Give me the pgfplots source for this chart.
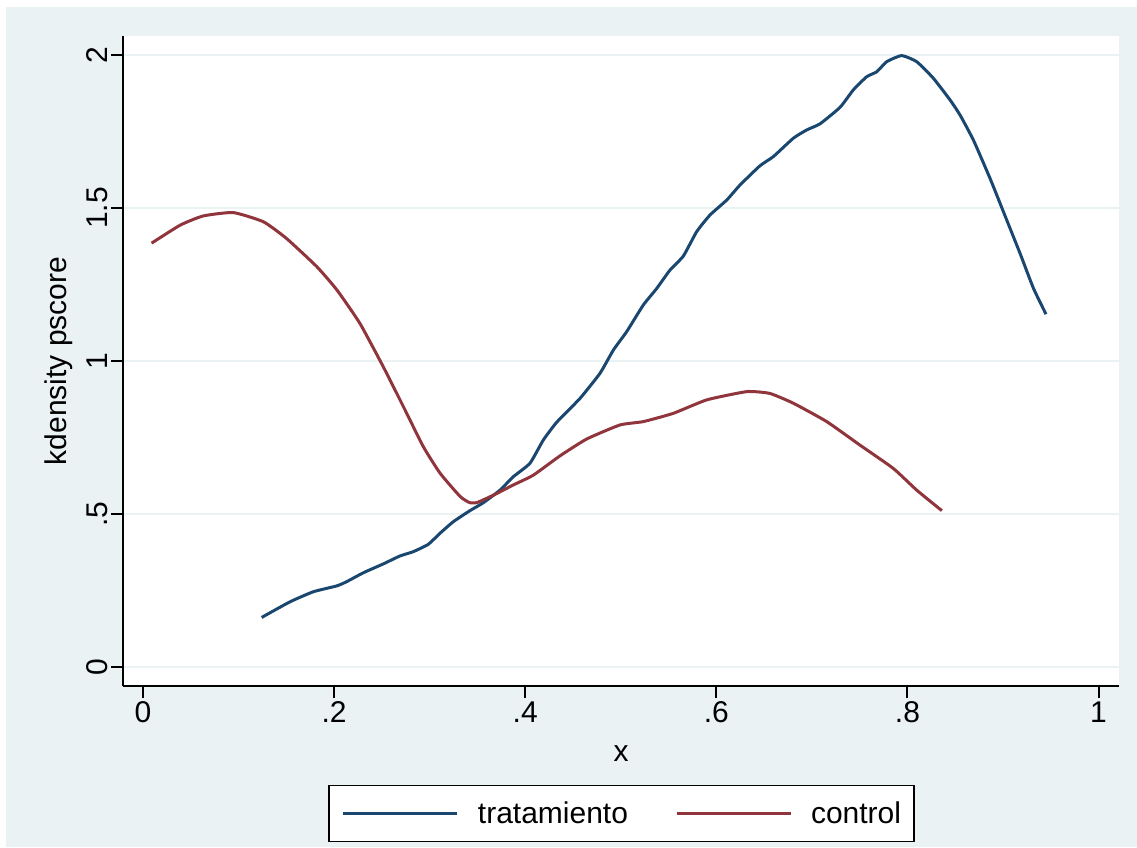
\documentclass[border=0pt]{standalone}
\usepackage{fontspec}
\setmainfont{Liberation Sans}
\usepackage{pgfplots}
\pgfplotsset{compat=1.18}
\definecolor{stnavy}{RGB}{26,71,111}
\definecolor{stmaroon}{RGB}{144,53,59}
\definecolor{stbg}{RGB}{234,242,243}
\begin{document}
\begin{tikzpicture}[x=1pt,y=1pt]
\useasboundingbox (0,0) rectangle (1137,847);
\fill[white] (0,0) rectangle (1137,847);
\fill[stbg] (6,0) rectangle (1137,840);
\begin{axis}[
  at={(123pt,161pt)}, anchor=south west,
  scale only axis, width=996pt, height=650pt,
  xmin=-0.0209, xmax=1.0214, ymin=-0.062, ymax=2.062,
  axis lines*=left,
  axis line style={line width=2pt, black},
  axis background/.style={fill=white},
  tick align=outside, major tick length=12pt,
  tick style={line width=2pt, black},
  xtick={0,0.2,0.4,0.6,0.8,1}, xticklabels={0,.2,.4,.6,.8,1},
  ytick={0,0.5,1,1.5,2}, yticklabels={0,.5,1,1.5,2},
  yticklabel style={rotate=90, anchor=south},
  ymajorgrids, grid style={stbg, line width=2.5pt},
  /pgf/number format/assume math mode=true,
  font=\fontsize{30}{36}\selectfont,
  xlabel={x}, ylabel={kdensity pscore},
  xlabel style={yshift=-16pt},
  ylabel style={yshift=7pt},
  legend columns=2,
  legend style={at={(0.5005,-0.196)}, anchor=center, draw=black, line width=1.5pt,
    inner xsep=13pt, inner ysep=16.5pt,
    nodes={inner sep=0pt, anchor=west},
    /tikz/every odd column/.style={column sep=19pt},
    /tikz/every even column/.style={column sep=47pt}},
  legend image code/.code={\draw[#1, line width=3pt] (0pt,0pt) -- (114pt,0pt);},
  legend cell align=left,
]
\addplot[stnavy, line width=3pt, line join=round, smooth, tension=0.3] coordinates {
(0.1242,0.162) (0.1538,0.213) (0.1783,0.246) (0.2027,0.265) (0.2132,0.279)
(0.2306,0.308) (0.2515,0.337) (0.269,0.363) (0.2829,0.377) (0.2986,0.401)
(0.3108,0.437) (0.3248,0.475) (0.3422,0.511) (0.3562,0.537) (0.3736,0.578)
(0.3876,0.622) (0.405,0.666) (0.419,0.742) (0.433,0.800) (0.4574,0.878)
(0.4783,0.960) (0.4923,1.036) (0.5062,1.096) (0.5236,1.183) (0.5376,1.237)
(0.5515,1.297) (0.5655,1.343) (0.5795,1.423) (0.5934,1.477) (0.6109,1.526)
(0.6248,1.575) (0.6457,1.638) (0.6597,1.668) (0.6806,1.728) (0.6946,1.755)
(0.7085,1.775) (0.7295,1.829) (0.7434,1.886) (0.7574,1.929) (0.7679,1.945)
(0.7783,1.978) (0.794,1.998) (0.8097,1.978) (0.8271,1.924) (0.8446,1.853)
(0.855,1.804) (0.869,1.722) (0.8864,1.597) (0.9004,1.488) (0.9178,1.352)
(0.9318,1.238) (0.945,1.153)
};
\addlegendentry{tratamiento}
\addplot[stmaroon, line width=3pt, line join=round, smooth, tension=0.3] coordinates {
(0.009,1.385) (0.039,1.444) (0.063,1.474) (0.0945,1.485) (0.126,1.455)
(0.150,1.401) (0.182,1.308) (0.203,1.232) (0.227,1.123) (0.2515,0.981)
(0.2725,0.851) (0.2934,0.720) (0.311,0.633) (0.332,0.557) (0.342,0.537)
(0.350,0.538) (0.367,0.562) (0.3876,0.595) (0.4085,0.627) (0.4364,0.690)
(0.4643,0.745) (0.4992,0.791) (0.5236,0.802) (0.555,0.829) (0.590,0.873)
(0.632,0.900) (0.656,0.894) (0.6806,0.862) (0.7155,0.802) (0.7504,0.725)
(0.7852,0.649) (0.8097,0.578) (0.836,0.511)
};
\addlegendentry{control}
\end{axis}
\end{tikzpicture}
\end{document}
